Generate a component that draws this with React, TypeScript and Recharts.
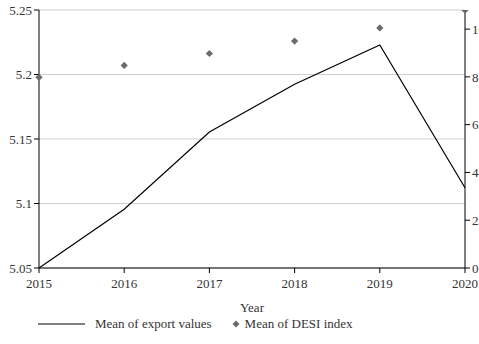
import { ComposedChart, Line, XAxis, YAxis, CartesianGrid, Legend, Label } from "recharts"

const years = [2015, 2016, 2017, 2018, 2019, 2020]
const exportMeans = [5.05, 5.0955, 5.1554, 5.1924, 5.2229, 5.1122]
const desiMeans = [7.98, 8.48, 8.98, 9.5, 10.05, 10.79]

const leftTicks = [5.05, 5.1, 5.15, 5.2, 5.25]
const rightTicks = [0, 2, 4, 6, 8, 10]

const data = years.map((year, i) => ({
  year,
  exportValue: exportMeans[i],
  desi: desiMeans[i],
}))

const font = "Liberation Serif, DejaVu Serif, serif"
const textColor = "#333"
const markerColor = "#6b6b6b"
const tickStyle = { fill: textColor, fontSize: 13, fontFamily: font }

function Diamond(props: any) {
  const { cx, cy } = props
  if (cx == null || cy == null) return null
  const r = 3.6
  return (
    <path
      d={`M${cx},${cy - r} L${cx + r},${cy} L${cx},${cy + r} L${cx - r},${cy} Z`}
      fill={markerColor}
    />
  )
}

function ChartLegend() {
  return (
    <div style={{ display: "flex", alignItems: "center", fontFamily: font, fontSize: 13, color: textColor, paddingLeft: 38 }}>
      <svg width={48} height={10}>
        <line x1={0} y1={5} x2={47} y2={5} stroke="#000" strokeWidth={1.2} />
      </svg>
      <span style={{ marginLeft: 9 }}>Mean of export values</span>
      <svg width={10} height={10} style={{ marginLeft: 19 }}>
        <path d="M5,1.5 L8.5,5 L5,8.5 L1.5,5 Z" fill={markerColor} />
      </svg>
      <span style={{ marginLeft: 4 }}>Mean of DESI index</span>
    </div>
  )
}

export default function App() {
  return (
    <div style={{ position: "absolute", left: 0, top: 0, width: 479, height: 344, overflow: "hidden", background: "#fff", fontFamily: font }}>
      <ComposedChart
        width={500}
        height={344}
        data={data}
        margin={{ top: 10, right: 5, bottom: 0, left: 0 }}
        style={{ fontFamily: font }}
      >
        <CartesianGrid yAxisId="left" vertical={false} stroke="#cfcfcf" />
        <XAxis
          dataKey="year"
          type="number"
          domain={[2015, 2020]}
          ticks={years}
          height={48}
          axisLine={{ stroke: "#000" }}
          tickLine={{ stroke: "#000" }}
          tickSize={5}
          tickMargin={6}
          tick={tickStyle}
          interval={0}
        >
          <Label value="Year" position="insideBottom" offset={4} fill={textColor} fontSize={13} fontFamily={font} />
        </XAxis>
        <YAxis
          yAxisId="left"
          domain={[5.05, 5.25]}
          ticks={leftTicks}
          width={39}
          axisLine={{ stroke: "#000" }}
          tickLine={{ stroke: "#000" }}
          tickSize={5}
          tick={tickStyle}
          allowDataOverflow
        />
        <YAxis
          yAxisId="right"
          orientation="right"
          domain={[0, 10.8]}
          ticks={rightTicks}
          width={30}
          axisLine={{ stroke: "#000" }}
          tickLine={{ stroke: "#000" }}
          tickSize={5}
          tick={tickStyle}
          allowDataOverflow
        />
        <Legend verticalAlign="bottom" height={28} content={() => <ChartLegend />} />
        <Line
          yAxisId="left"
          type="linear"
          dataKey="exportValue"
          stroke="#000"
          strokeWidth={1.2}
          dot={false}
          activeDot={false}
          isAnimationActive={false}
        />
        <Line
          yAxisId="right"
          type="linear"
          dataKey="desi"
          stroke="none"
          dot={<Diamond />}
          activeDot={false}
          isAnimationActive={false}
        />
      </ComposedChart>
    </div>
  )
}
